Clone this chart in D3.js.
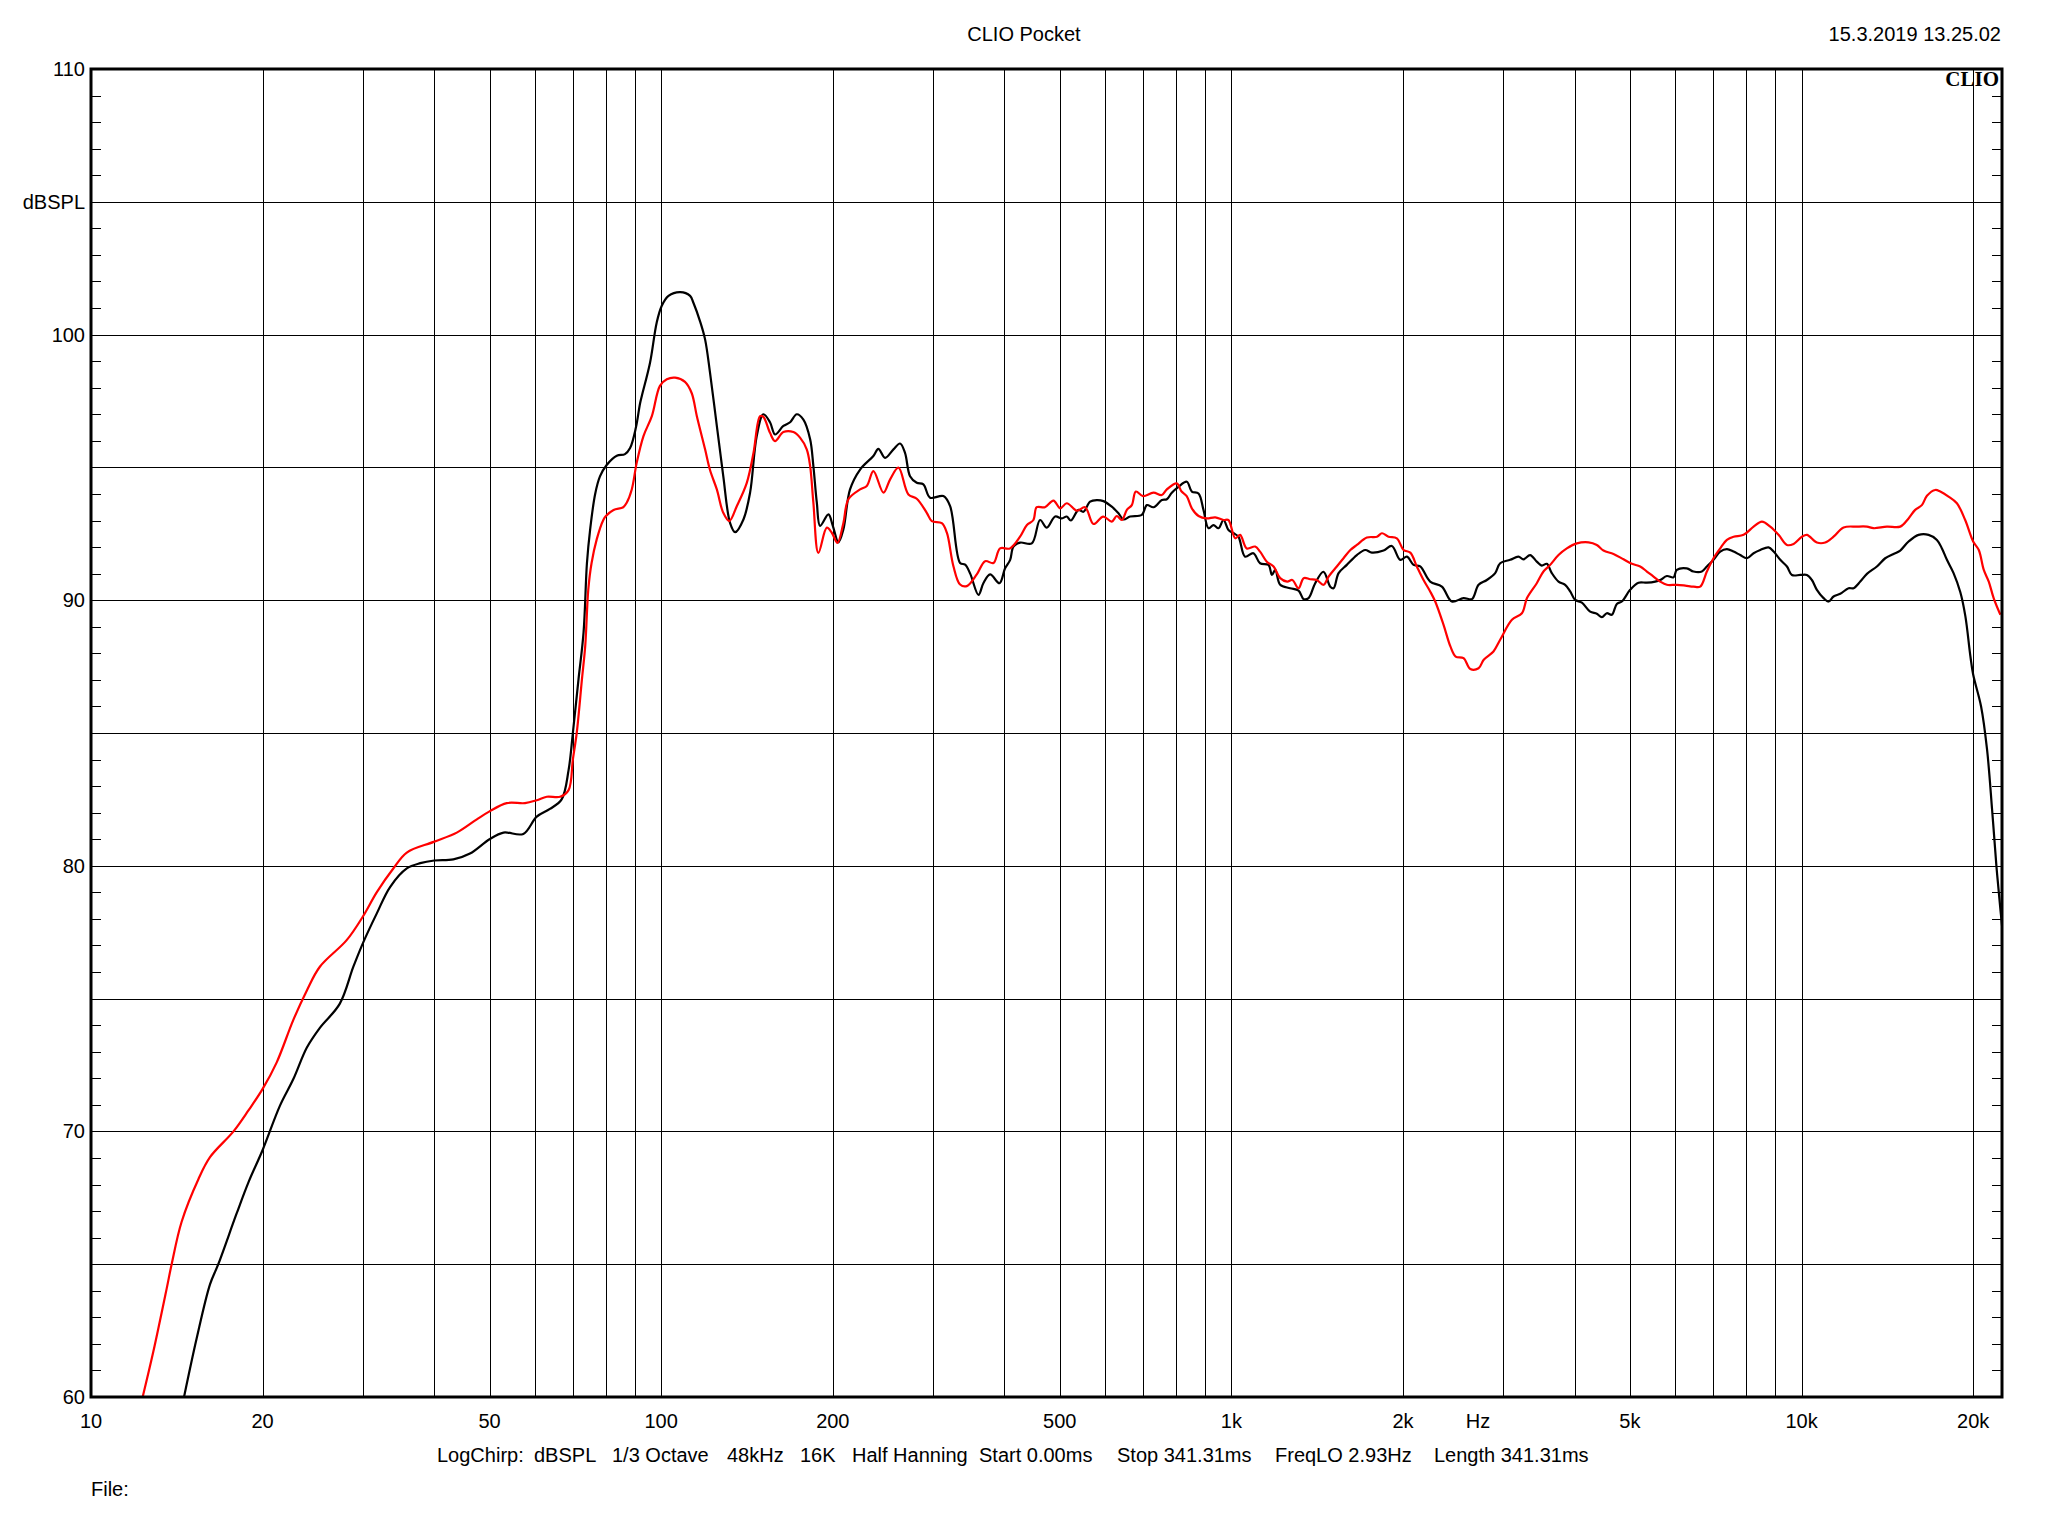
<!DOCTYPE html>
<html>
<head>
<meta charset="utf-8">
<script src="https://cdn.jsdelivr.net/npm/d3@7"></script>
<style>
  html, body { margin: 0; padding: 0; background: #fff; }
  svg { display: block; }
  text { font-family: "Liberation Sans", Arial, sans-serif; fill: #000; }
</style>
</head>
<body>
<script>
// ---------- DATA ----------
const xTickValues = [10, 20, 50, 100, 200, 500, 1000, 2000, 5000, 10000, 20000];
const xTickLabels = ["10", "20", "50", "100", "200", "500", "1k", "2k", "5k", "10k", "20k"];
const yTickValues = [110, 100, 90, 80, 70, 60];
const yTickLabels = ["110", "100", "90", "80", "70", "60"];
const yUnitLabel = "dBSPL";
const xUnitLabel = "Hz";
const titleText = "CLIO Pocket";
const dateText = "15.3.2019 13.25.02";
const logoText = "CLIO";
const fileText = "File:";
const infoItems = ["LogChirp:", "dBSPL", "1/3 Octave", "48kHz", "16K", "Half Hanning",
  "Start 0.00ms", "Stop 341.31ms", "FreqLO 2.93Hz", "Length 341.31ms"];

const blackFreq = [14.56,15.32,16.17,16.72,18.0,18.9,20,21.45,22.64,23.9,25.2,27.3,28.85,30,31.7,33.46,35.8,37.8,40,43.2,46.2,50,52.9,57.3,60.5,63.8,66.9,68.8,70,71.6,73.1,74.1,75.05,76.6,78.1,80.3,83.6,86.4,88.2,90.3,91.8,92.5,95.6,98.2,100.2,103,108,112.4,113.9,117,119.4,121.8,125.2,128.5,132.1,134.8,139.4,143.2,147.1,151.1,155.2,158.4,163.8,168.3,172.9,177.6,182.5,184.9,187.5,190,196.5,200,204.6,208.7,214.4,223.3,235.6,240.4,247,255.5,262.4,267.7,273.2,280.7,288.3,296.2,312.6,321.2,334.4,341.3,348.3,360.2,367.5,377.5,392,401,409.3,414.8,426.1,446.7,461.9,474.6,490.8,504.3,514.5,522.9,539.4,550.3,565.3,580.7,596.6,617,633.9,646.9,664.5,696.6,710.9,730.3,755.3,770.6,786.3,807.8,835.4,852.5,875.8,893.6,912,930.5,949.5,968.8,988.5,1009,1029,1057,1093,1123,1162,1178,1194,1218,1268,1312,1339,1366,1403,1451,1491,1511,1542,1594,1660,1717,1764,1849,1912,1978,2032,2087,2144,2232,2340,2436,2554,2642,2714,2806,2902,2961,3083,3188,3253,3342,3433,3503,3575,3648,3748,3850,3929,4009,4119,4259,4375,4465,4555,4648,4743,4840,5005,5177,5355,5538,5651,5805,5963,6043,6292,6464,6686,6823,7009,7201,7398,7600,7807,8021,8240,8465,8755,8934,9178,9428,9619,9949,10220,10428,10640,10931,11153,11381,11693,12092,12339,12677,13023,13558,14022,14501,14897,15407,16043,16705,17276,17630,17989,18478,18990,19379,19775,20000,20650,21155,21588,21969,22325,22478];
const blackDb = [60,62.2,64.24,65,66.9,68.1,69.3,70.97,71.97,73.15,73.9,74.8,76.2,77.1,78.2,79.2,79.9,80.1,80.2,80.24,80.46,81.0,81.25,81.2,81.85,82.14,82.5,83.6,85,87,88.8,91.4,92.65,94.0,94.66,95.1,95.44,95.5,95.73,96.5,97.4,97.7,98.94,100.45,101.08,101.46,101.6,101.46,101.2,100.5,99.82,98.57,96.56,94.67,92.9,92.56,93.04,94.05,96.18,97.0,96.7,96.24,96.56,96.7,97.0,96.8,96.06,95.05,93.67,92.8,93.23,92.8,92.18,92.66,94.17,94.92,95.43,95.7,95.36,95.68,95.9,95.55,94.67,94.42,94.36,93.86,93.92,93.54,91.4,91.34,91.0,90.2,90.65,90.97,90.64,91.2,91.52,92.02,92.17,92.14,93.02,92.73,93.15,93.08,93.15,93.0,93.4,93.33,93.71,93.77,93.73,93.52,93.27,93.04,93.15,93.21,93.58,93.5,93.77,93.8,94.05,94.27,94.46,94.09,94.02,93.4,92.71,92.83,92.71,93.02,92.64,92.52,92.39,91.64,91.77,91.39,91.33,90.95,91.14,90.58,90.45,90.36,90.04,90.08,90.64,91.07,90.51,90.45,91.02,91.33,91.7,91.89,91.79,91.87,92.04,91.52,91.64,91.33,91.27,90.7,90.51,89.95,90.08,90.04,90.58,90.76,91.02,91.39,91.52,91.64,91.54,91.7,91.45,91.3,91.37,91.02,90.7,90.58,90.33,90.01,89.91,89.57,89.49,89.36,89.51,89.45,89.86,89.95,90.39,90.66,90.66,90.7,90.76,90.91,90.86,91.14,91.2,91.08,91.08,91.27,91.52,91.83,91.92,91.83,91.7,91.58,91.77,91.89,91.99,91.83,91.52,91.27,90.95,90.95,90.95,90.76,90.39,90.08,89.95,90.14,90.24,90.45,90.45,90.7,90.99,91.27,91.58,91.74,91.87,92.21,92.46,92.46,92.27,91.95,91.52,91.02,90.3,89.4,87.9,87.2,86.0,84.37,82.12,79.99,78.36,77.73];

const redFreq = [12.32,12.86,13.58,13.85,14.42,15.43,16.17,17.78,18.9,20,21.17,22.64,23.9,25.2,28.08,30,31.7,33.9,35.8,39.9,43.8,47.5,50,53.6,57.7,60.5,63,66.5,68.8,70,71.1,72.6,73.6,74.5,75.5,77.1,79.2,80,82.5,85.8,87,88.8,90.6,93.1,96.3,99.5,102.3,105.8,110.1,113.1,115.5,119.4,121.8,125.2,128.5,131.7,135.7,141.3,145.2,149.1,151.1,155.2,158.4,163.8,170.6,175.2,180,182.5,184.9,188.7,195.2,199.2,203.8,208.7,213,223.3,229.4,235.6,245.4,252.1,260.7,271.4,280.7,292.3,298.3,310.6,317,325.5,334.4,343.6,357.7,370,382.6,393,409,426,438,449.6,455.6,471,487.5,501,514.5,535.9,554,573,596,617,629.6,642.5,655.7,669,680,700,730,755,770.6,802,818,835,852.5,876,905,937,969,988,1016,1036,1064,1101,1123,1154,1186,1218,1253,1279,1312,1339,1375,1412,1451,1481,1531,1573,1617,1660,1729,1801,1837,1886,1951,2005,2060,2115,2173,2232,2278,2356,2422,2474,2554,2625,2714,2771,2882,2961,3105,3233,3300,3433,3527,3624,3748,3876,4036,4231,4375,4494,4680,4873,5040,5212,5355,5501,5651,5805,6043,6252,6464,6641,6823,7009,7201,7398,7600,7914,8240,8522,8813,9116,9428,9685,10016,10220,10640,11006,11381,11850,12507,13023,13376,14116,14897,15407,15825,16257,16595,17160,17512,18107,18728,19366,20000,20460,20876,21300,21733,22325];
const redDb = [60,61.7,64.1,65,66.6,68.2,69.03,70,70.8,71.6,72.6,74.2,75.3,76.2,77.2,78.1,79.0,79.9,80.5,80.9,81.25,81.75,82.05,82.36,82.36,82.47,82.6,82.6,82.85,84,85,87,88.3,90.4,91.4,92.3,93.03,93.17,93.4,93.5,93.67,94.17,95.18,96.18,96.93,98.07,98.32,98.38,98.22,97.8,96.93,95.68,94.9,94.17,93.29,92.98,93.54,94.42,95.55,96.93,96.9,96.3,95.99,96.33,96.33,96.12,95.68,95.05,93.67,91.78,92.73,92.54,92.16,92.9,93.8,94.17,94.3,94.86,94.05,94.55,94.99,93.98,93.82,93.29,92.98,92.9,92.54,91.28,90.59,90.53,90.97,91.47,91.4,91.95,91.95,92.39,92.83,93.02,93.5,93.5,93.75,93.46,93.65,93.37,93.5,92.87,93.15,92.96,93.17,93.02,93.4,93.58,94.09,93.92,94.05,93.96,94.17,94.4,94.09,93.92,93.46,93.17,93.08,93.12,93.02,93.02,92.33,92.46,91.95,92.02,91.83,91.45,91.27,90.83,90.7,90.76,90.45,90.83,90.79,90.76,90.58,90.89,91.27,91.58,91.89,92.08,92.36,92.39,92.52,92.39,92.33,91.89,91.79,91.27,90.76,90.33,89.95,89.07,88.26,87.88,87.82,87.41,87.44,87.76,88.07,88.51,89.26,89.51,90.08,90.64,91.08,91.33,91.7,91.95,92.14,92.18,92.08,91.87,91.74,91.54,91.37,91.27,91.08,90.89,90.7,90.58,90.58,90.55,90.51,90.51,91.08,91.58,91.95,92.27,92.39,92.46,92.77,92.96,92.77,92.46,92.08,92.12,92.39,92.46,92.17,92.17,92.39,92.74,92.77,92.77,92.71,92.77,92.77,93.08,93.4,93.58,93.93,94.15,94.09,93.9,93.65,93.02,92.21,91.89,91.14,90.7,90.07,89.45];

// ---------- LAYOUT ----------
const W = 2048, H = 1536;
const L = 91, R = 2002, T = 69, B = 1397;

const svg = d3.select("body").append("svg").attr("width", W).attr("height", H);
svg.append("rect").attr("width", W).attr("height", H).attr("fill", "#fff");

const x = d3.scaleLog().domain([10, 22470]).range([L, R]);
const y = d3.scaleLinear().domain([60, 110]).range([B, T]);

// logo (under grid)
svg.append("text").attr("x", 1999).attr("y", 86).attr("text-anchor", "end")
  .style("font-family", "'Liberation Serif', 'Times New Roman', serif")
  .style("font-weight", "bold").style("font-size", "21px").text(logoText);

// grid
const vGrid = [];
[10, 100, 1000].forEach(d => { for (let k = 1; k <= 9; k++) { const v = d * k; if (v > 10) vGrid.push(v); } });
vGrid.push(10000, 20000);
const hGrid = d3.range(65, 110, 5);

const grid = svg.append("g").attr("stroke", "#000").attr("stroke-width", 1).attr("shape-rendering", "crispEdges");
grid.selectAll("line.v").data(vGrid).join("line")
  .attr("x1", d => Math.round(x(d)) + 0.5).attr("x2", d => Math.round(x(d)) + 0.5)
  .attr("y1", T).attr("y2", B);
grid.selectAll("line.h").data(hGrid).join("line")
  .attr("x1", L).attr("x2", R)
  .attr("y1", d => Math.round(y(d)) + 0.5).attr("y2", d => Math.round(y(d)) + 0.5);

// minor ticks (1 dB) left and right
const minor = d3.range(61, 110).filter(v => v % 5 !== 0);
const tk = svg.append("g").attr("stroke", "#000").attr("stroke-width", 1).attr("shape-rendering", "crispEdges");
tk.selectAll("line.l").data(minor).join("line")
  .attr("x1", L).attr("x2", L + 10)
  .attr("y1", d => Math.round(y(d)) + 0.5).attr("y2", d => Math.round(y(d)) + 0.5);
tk.selectAll("line.r").data(minor).join("line")
  .attr("x1", R - 10).attr("x2", R)
  .attr("y1", d => Math.round(y(d)) + 0.5).attr("y2", d => Math.round(y(d)) + 0.5);

// curves
const clip = svg.append("clipPath").attr("id", "plotclip");
clip.append("rect").attr("x", L).attr("y", T).attr("width", R - L).attr("height", B - T);

const line = d3.line()
  .x(d => x(d[0]))
  .y(d => y(d[1]))
  .curve(d3.curveCatmullRom.alpha(0.5));

const blackPts = blackFreq.map((f, i) => [f, blackDb[i]]);
const redPts = redFreq.map((f, i) => [f, redDb[i]]);
const curves = svg.append("g").attr("clip-path", "url(#plotclip)").attr("fill", "none")
  .attr("stroke-width", 2.2).attr("stroke-linejoin", "round");
curves.append("path").attr("d", line(blackPts)).attr("stroke", "#000");
curves.append("path").attr("d", line(redPts)).attr("stroke", "#ff0000");

// frame
svg.append("rect").attr("x", L).attr("y", T).attr("width", R - L).attr("height", B - T)
  .attr("fill", "none").attr("stroke", "#000").attr("stroke-width", 3);

// y labels
const fs = "20px";
svg.selectAll("text.yl").data(yTickValues).join("text")
  .attr("x", 85).attr("y", d => y(d) + 7).attr("text-anchor", "end").style("font-size", fs)
  .text((d, i) => yTickLabels[i]);
svg.append("text").attr("x", 85).attr("y", y(105) + 7).attr("text-anchor", "end").style("font-size", fs).text(yUnitLabel);

// x labels
svg.selectAll("text.xl").data(xTickValues).join("text")
  .attr("x", d => x(d)).attr("y", 1428).attr("text-anchor", "middle").style("font-size", fs)
  .text((d, i) => xTickLabels[i]);
svg.append("text").attr("x", 1478).attr("y", 1428).attr("text-anchor", "middle").style("font-size", fs).text(xUnitLabel);

// title and date
svg.append("text").attr("x", 1024).attr("y", 41).attr("text-anchor", "middle").style("font-size", fs).text(titleText);
svg.append("text").attr("x", 2001).attr("y", 41).attr("text-anchor", "end").style("font-size", fs).text(dateText);

// info line
const infoX = [437, 534, 612, 727, 800, 852, 979, 1117, 1275, 1434];
svg.selectAll("text.info").data(infoItems).join("text")
  .attr("x", (d, i) => infoX[i]).attr("y", 1462).style("font-size", fs).text(d => d);

svg.append("text").attr("x", 91).attr("y", 1496).style("font-size", fs).text(fileText);
</script>
</body>
</html>
